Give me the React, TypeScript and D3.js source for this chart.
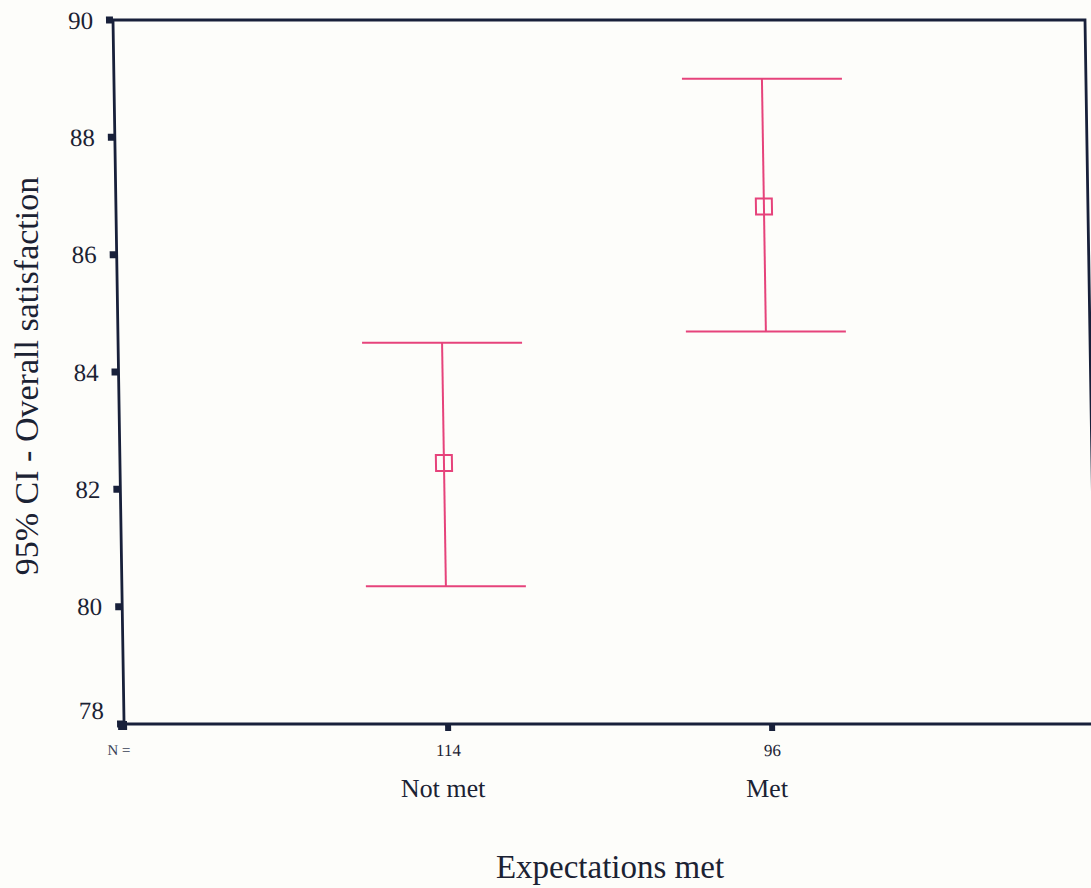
import React from "react";
import * as d3 from "d3";

// Group summaries: 95% confidence interval of overall satisfaction
const categories = ["Not met", "Met"];
const counts = [114, 96];
const means = [82.45, 86.82];
const lowerCI = [80.35, 84.69];
const upperCI = [84.5, 89.0];
const yTicks = [78, 80, 82, 84, 86, 88, 90];

const W = 1091;
const H = 888;
const left = 113;
const right = 1085;
const top = 20;
const bottom = 724;

const ink = "#18203a";
const pink = "#e6437b";
const serif = "'Liberation Serif', 'Times New Roman', serif";

export default function App() {
  const x = d3.scalePoint<string>().domain(categories).range([left, right]).padding(1);
  const y = d3.scaleLinear().domain([78, 90]).range([bottom, top]);
  const capHalf = 80;
  const box = 16;

  // slight lean of the whole frame, pivoting on the top edge
  const lean = `translate(0,${top}) skewX(0.9) translate(0,${-top})`;

  return (
    <svg
      width={W}
      height={H}
      style={{ position: "absolute", left: 0, top: 0, background: "#fdfdfa" }}
    >
      <rect x={0} y={0} width={W} height={H} fill="#fdfdfa" />
      <g transform={lean}>
        {/* frame */}
        <rect
          x={left}
          y={top}
          width={right - left}
          height={bottom - top}
          fill="none"
          stroke={ink}
          strokeWidth={2.8}
        />
        {/* y ticks */}
        {yTicks.map((t, i) => (
          <g key={t}>
            <rect x={left - 7} y={y(t) - 3.5} width={7} height={7} fill={ink} />
            <text
              x={left - 20}
              y={y(t) - (i === 0 ? 14 : 0)}
              dy="0.35em"
              textAnchor="end"
              fontFamily={serif}
              fontSize={25}
              fill="#1b2233"
            >
              {t}
            </text>
          </g>
        ))}
        <rect x={left - 6} y={bottom - 3} width={9} height={9} fill={ink} />
        {/* x ticks and counts */}
        {categories.map((c, i) => (
          <g key={c}>
            <rect x={(x(c) as number) - 3} y={bottom} width={6} height={7} fill={ink} />
            <text
              x={x(c)}
              y={bottom + 32}
              textAnchor="middle"
              fontFamily={serif}
              fontSize={17}
              fill="#1b2233"
            >
              {counts[i]}
            </text>
            <text
              x={(x(c) as number) - 6}
              y={bottom + 73}
              textAnchor="middle"
              fontFamily={serif}
              fontSize={26}
              fill="#1b2233"
            >
              {c}
            </text>
          </g>
        ))}
        <text x={left - 17} y={bottom + 31} fontFamily={serif} fontSize={15} fill="#3a4256">
          N =
        </text>
        {/* error bars */}
        {categories.map((c, i) => {
          const cx = x(c) as number;
          return (
            <g key={c} stroke={pink} strokeWidth={2} fill="none">
              <line x1={cx - capHalf} x2={cx + capHalf} y1={y(upperCI[i])} y2={y(upperCI[i])} />
              <line x1={cx - capHalf} x2={cx + capHalf} y1={y(lowerCI[i])} y2={y(lowerCI[i])} />
              <line x1={cx} x2={cx} y1={y(upperCI[i])} y2={y(lowerCI[i])} />
              <rect
                x={cx - box / 2}
                y={y(means[i]) - box / 2}
                width={box}
                height={box}
                fill="#fdfdfa"
              />
              <line x1={cx} x2={cx} y1={y(means[i]) - box / 2} y2={y(means[i]) + box / 2} />
            </g>
          );
        })}
      </g>
      {/* axis titles */}
      <text
        x={610}
        y={878}
        textAnchor="middle"
        fontFamily={serif}
        fontSize={33}
        fill="#1b2233"
      >
        Expectations met
      </text>
      <text
        transform={`translate(38,376) rotate(-90)`}
        textAnchor="middle"
        fontFamily={serif}
        fontSize={34}
        fill="#1b2233"
      >
        95% CI - Overall satisfaction
      </text>
    </svg>
  );
}
